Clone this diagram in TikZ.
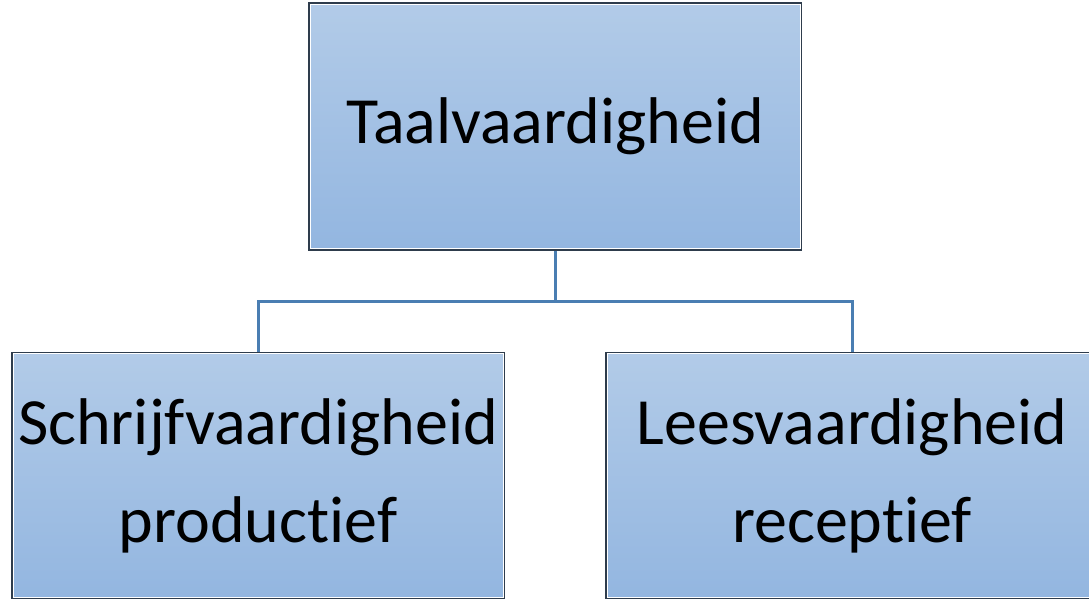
\documentclass[tikz,border=0pt]{standalone}
\usepackage{fontspec}
\setmainfont[Ligatures=NoCommon]{Carlito}
\usetikzlibrary{positioning}
\definecolor{boxtop}{HTML}{B2CBE8}
\definecolor{boxbot}{HTML}{93B6E0}
\definecolor{boxedge}{HTML}{2E3C4C}
\definecolor{linkblue}{HTML}{4A7EB2}
\tikzset{
  unit/.style={x=1pt,y=-1pt},
  orgbox/.style={rectangle, minimum width=492pt, minimum height=246pt,
    top color=boxtop, bottom color=boxbot, draw=boxedge, line width=2pt,
    inner sep=0pt, align=center, font=\fontsize{66}{98}\selectfont},
  link/.style={draw=linkblue, line width=3pt}
}
\begin{document}
\begin{tikzpicture}[unit]
  \useasboundingbox (0,0) rectangle (1089,599);
  \begin{scope}
    \clip (0,0) rectangle (1089,599);
    \node[orgbox] (top) at (555,126.5) {Taalvaardigheid};
    \node[orgbox] (left) at (258,475.5) {Schrijfvaardigheid\\productief};
    \node[orgbox] (right) at (852,475.5) {Leesvaardigheid\\receptief};
    % thin light inner rim
    \foreach \b in {top,left,right}
      \draw[white, line width=0.8pt]
        ([shift={(2pt,-2pt)}]\b.north west) rectangle ([shift={(-2pt,2pt)}]\b.south east);
    \coordinate (bus) at (555,301);
    \draw[link] (top.south) -- (bus);
    \draw[link] (left.north) |- (bus) -| (right.north);
  \end{scope}
\end{tikzpicture}
\end{document}
